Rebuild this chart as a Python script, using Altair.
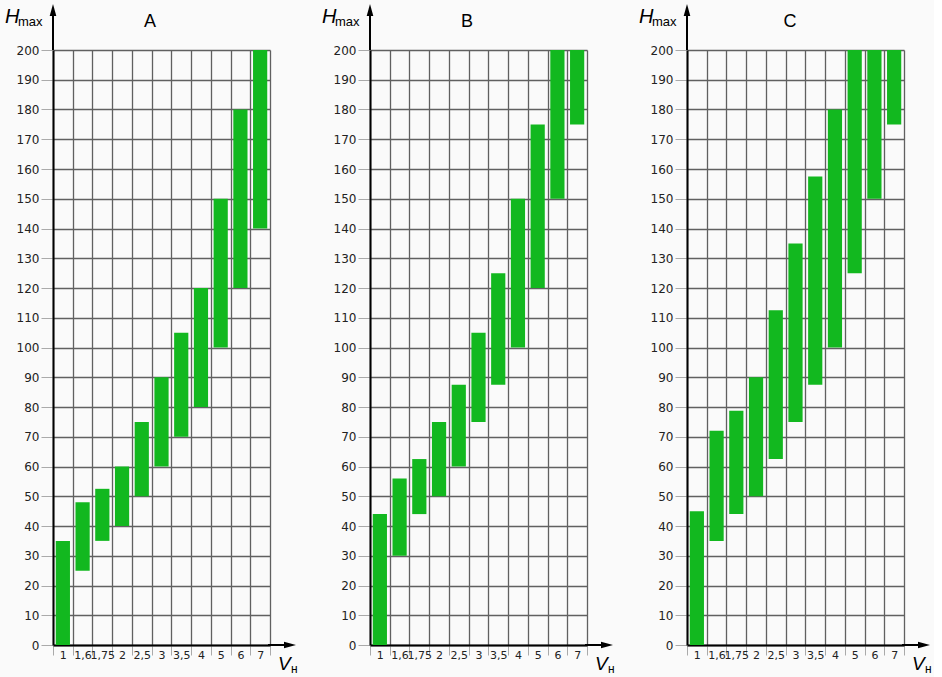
import altair as alt
import pandas as pd

cats = ["1", "1,6", "1,75", "2", "2,5", "3", "3,5", "4", "5", "6", "7"]

a_lo = [0, 25, 35, 40, 50, 60, 70, 80, 100, 120, 140]
a_hi = [35, 48, 52.5, 60, 75, 90, 105, 120, 150, 180, 200]

b_lo = [0, 30, 44, 50, 60, 75, 87.5, 100, 120, 150, 175]
b_hi = [44, 56, 62.5, 75, 87.5, 105, 125, 150, 175, 200, 200]

c_lo = [0, 35, 44, 50, 62.5, 75, 87.5, 100, 125, 150, 175]
c_hi = [45, 72, 78.75, 90, 112.5, 135, 157.5, 180, 200, 200, 200]

y_ticks = list(range(0, 201, 10))
titles = ["A", "B", "C"]

W = 217
H = 595
GREEN = "#12b81f"
GRID = "#606060"
BG = "#fafafa"
LABEL_FONT = "DejaVu Sans"
TEXT_FONT = "Liberation Sans"


def panel(title, lo, hi, title_x):
    df = pd.DataFrame({"V": cats, "lo": lo, "hi": hi})
    bars = alt.Chart(df).mark_bar(
        color=GREEN, width=alt.RelativeBandSize(0.72)
    ).encode(
        x=alt.X(
            "V:N",
            sort=cats,
            scale=alt.Scale(paddingInner=0, paddingOuter=0),
            axis=alt.Axis(
                title=None,
                labelAngle=0,
                grid=True,
                gridColor=GRID,
                gridWidth=1.3,
                tickBand="extent",
                ticks=True,
                tickSize=10,
                tickColor="#aaaaaa",
                tickWidth=1,
                labelPadding=-6,
                labelFont=LABEL_FONT,
                labelFontSize=11,
                labelColor="#222222",
                domainColor="black",
                domainWidth=2,
            ),
        ),
        y=alt.Y(
            "lo:Q",
            scale=alt.Scale(domain=[0, 200], nice=False),
            axis=alt.Axis(
                title=None,
                values=y_ticks,
                grid=True,
                gridColor=GRID,
                gridWidth=1.3,
                tickSize=12,
                tickColor="#aaaaaa",
                tickWidth=1,
                labelPadding=2,
                labelFont=LABEL_FONT,
                labelFontSize=12,
                labelColor="#222222",
                domainColor="black",
                domainWidth=2,
            ),
        ),
        y2="hi:Q",
    )

    one = pd.DataFrame({"k": [0]})
    base = alt.Chart(one)

    y_arrow = base.mark_rule(color="black", strokeWidth=2).encode(
        x=alt.value(0), y=alt.value(-36), y2=alt.value(0)
    )
    y_head = base.mark_point(
        shape="M0,-1L0.55,1L-0.55,1Z", filled=True, color="black", opacity=1, size=144
    ).encode(x=alt.value(0), y=alt.value(-40))

    x_arrow = base.mark_rule(color="black", strokeWidth=2).encode(
        x=alt.value(W - 2), x2=alt.value(W + 20), y=alt.value(H)
    )
    x_head = base.mark_point(
        shape="M1,0L-1,-0.55L-1,0.55Z", filled=True, color="black", opacity=1, size=144
    ).encode(x=alt.value(W + 20), y=alt.value(H))

    h_txt = base.mark_text(
        text="H", font=TEXT_FONT, fontStyle="italic", fontSize=20,
        align="left", baseline="alphabetic", color="black"
    ).encode(x=alt.value(-48), y=alt.value(-27))
    max_txt = base.mark_text(
        text="max", font=TEXT_FONT, fontSize=13,
        align="left", baseline="alphabetic", color="black"
    ).encode(x=alt.value(-35), y=alt.value(-24))

    v_txt = base.mark_text(
        text="V", font=TEXT_FONT, fontStyle="italic", fontSize=19,
        align="left", baseline="alphabetic", color="black"
    ).encode(x=alt.value(W + 8), y=alt.value(H + 25))
    n_txt = base.mark_text(
        text="н", font=TEXT_FONT, fontSize=12,
        align="left", baseline="alphabetic", color="black"
    ).encode(x=alt.value(W + 21), y=alt.value(H + 28))

    t_txt = base.mark_text(
        text=title, font=TEXT_FONT, fontSize=18,
        align="center", baseline="alphabetic", color="black"
    ).encode(x=alt.value(title_x), y=alt.value(-23))

    return alt.layer(
        bars, y_arrow, y_head, x_arrow, x_head, h_txt, max_txt, v_txt, n_txt, t_txt
    ).properties(width=W, height=H)


chart = alt.hconcat(
    panel(titles[0], a_lo, a_hi, 97),
    panel(titles[1], b_lo, b_hi, 97),
    panel(titles[2], c_lo, c_hi, 103),
    spacing=100,
    bounds="flush",
).properties(
    padding={"left": 5, "top": 4, "right": 2, "bottom": 2},
    background=BG,
).configure_view(stroke=None)

chart.save("out.html", embed_options={"renderer": "svg", "actions": False})
